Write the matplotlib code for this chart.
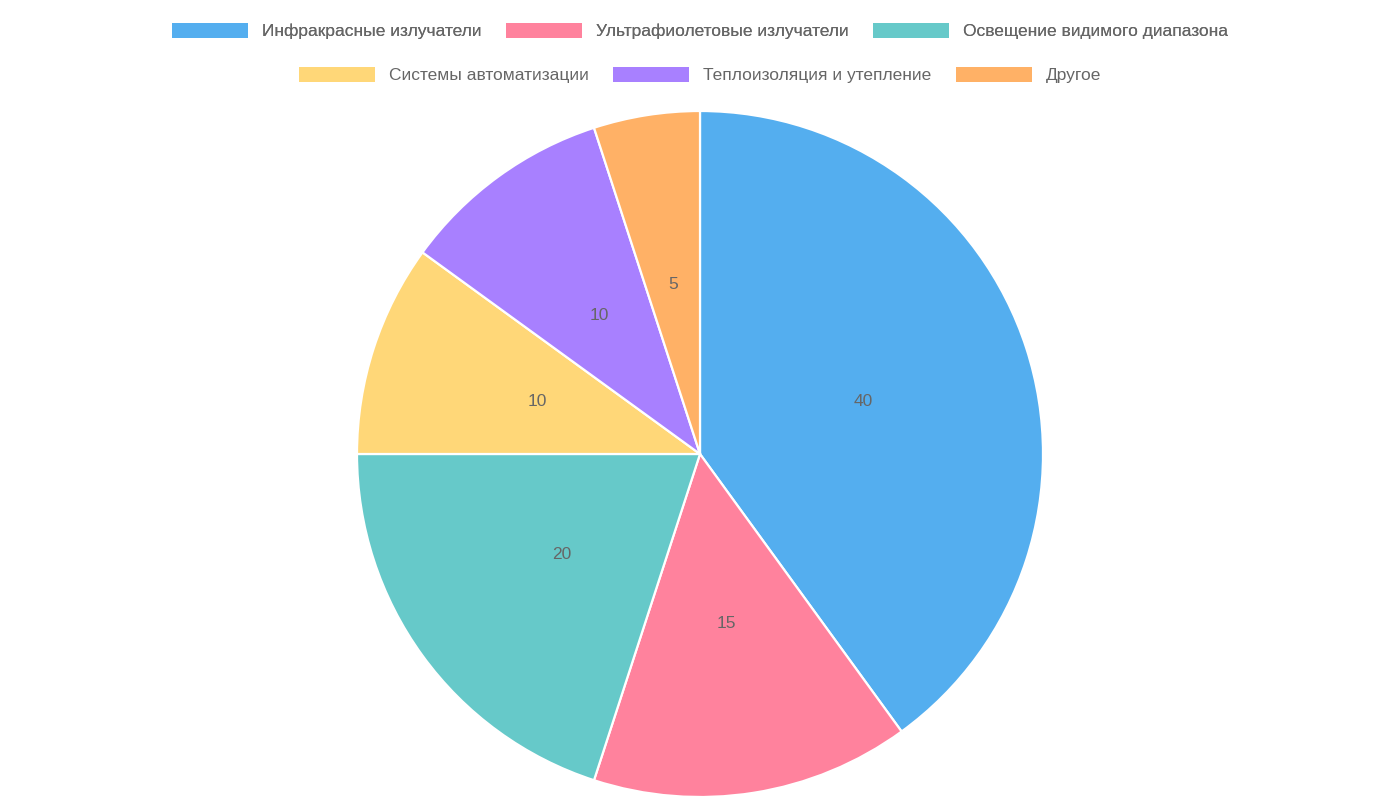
import matplotlib
matplotlib.use("Agg")
import matplotlib.pyplot as plt
from matplotlib.patches import Rectangle

plt.rcParams['font.family'] = ['Liberation Sans', 'DejaVu Sans']

labels = ['Инфракрасные излучатели', 'Ультрафиолетовые излучатели', 'Освещение видимого диапазона',
          'Системы автоматизации', 'Теплоизоляция и утепление', 'Другое']
values = [40, 15, 20, 10, 10, 5]
colors = ['#54AEEF', '#FF829D', '#66C9C9', '#FFD778', '#A880FF', '#FFB166']

W, H = 1400, 800
fig = plt.figure(figsize=(14, 8), dpi=100)
cx, cy, r = 700, 454, 343
ax = fig.add_axes([(cx - r) / W, (H - cy - r) / H, 2 * r / W, 2 * r / H])
total = sum(values)
ax.pie(values, colors=colors, startangle=90, counterclock=False,
       wedgeprops=dict(edgecolor='white', linewidth=1.6),
       autopct=lambda p: f"{p * total / 100:.0f}", pctdistance=0.5,
       textprops=dict(color='#666666', fontsize=12.5))
ax.set_aspect('equal')
ax.set_xlim(-1, 1)
ax.set_ylim(-1, 1)

def make_legend(idx, ypx):
    handles = [Rectangle((0, 0), 1, 1, facecolor=colors[i]) for i in idx]
    leg = fig.legend(handles, [labels[i] for i in idx], loc='center',
                     bbox_to_anchor=(0.5, 1 - ypx / H), ncol=len(idx), frameon=False,
                     fontsize=12.5, handlelength=4.4, handleheight=1.0,
                     handletextpad=0.8, columnspacing=1.4, labelcolor='#666666')
    return leg

l1 = make_legend([0, 1, 2], 31)
fig.add_artist(l1)
make_legend([3, 4, 5], 75)

fig.savefig('out.png', dpi=100)
